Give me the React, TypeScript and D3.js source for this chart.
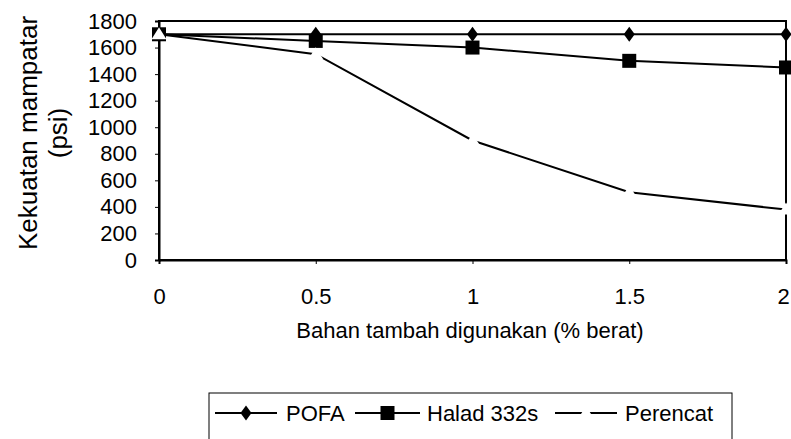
import React, { useEffect, useRef } from 'react';
import * as d3 from 'd3';

// data
const xValues = [0, 0.5, 1, 1.5, 2];
const pofa = [1700, 1700, 1700, 1700, 1700];
const halad = [1700, 1650, 1600, 1500, 1450];
const perencat = [1700, 1550, 900, 510, 380];
const yTicks = [0, 200, 400, 600, 800, 1000, 1200, 1400, 1600, 1800];
const xTicks = [0, 0.5, 1, 1.5, 2];
const seriesNames = ['POFA', 'Halad 332s', 'Perencat'];

const FONT = '"Liberation Sans", Arial, Helvetica, sans-serif';

const diamond = 'M0,-7.5L5.5,0L0,7.5L-5.5,0Z';
const square = 'M-7,-7H7V7H-7Z';
const triangle = 'M0,-7L7.5,5L-7.5,5Z';

export default function App() {
  const ref = useRef<SVGSVGElement>(null);

  useEffect(() => {
    const svg = d3.select(ref.current);
    svg.selectAll('*').remove();

    const left = 159, right = 786, top = 21, bottom = 260;
    const x = d3.scaleLinear().domain([0, 2]).range([left, right]);
    const y = d3.scaleLinear().domain([0, 1800]).range([bottom, top]);

    // plot frame
    svg.append('rect')
      .attr('x', left).attr('y', top)
      .attr('width', right - left).attr('height', bottom - top)
      .attr('fill', 'none').attr('stroke', '#000').attr('stroke-width', 2);

    // y axis
    const yAxis = svg.append('g')
      .attr('transform', `translate(${left},0)`)
      .call(d3.axisLeft(y).tickValues(yTicks).tickSize(4).tickPadding(18).tickFormat(d3.format('d')));
    yAxis.select('.domain').attr('stroke', '#000').attr('stroke-width', 2);
    yAxis.selectAll('.tick line').attr('stroke', '#000');
    yAxis.selectAll('.tick text')
      .attr('font-family', FONT).attr('font-size', 22).attr('fill', '#000');

    // x axis
    const xAxis = svg.append('g')
      .attr('transform', `translate(0,${bottom})`)
      .call(d3.axisBottom(x).tickValues(xTicks).tickSize(4).tickPadding(24).tickFormat(d => String(d)));
    xAxis.select('.domain').attr('stroke', '#000').attr('stroke-width', 2);
    xAxis.selectAll('.tick line').attr('stroke', '#000');
    xAxis.selectAll('.tick text')
      .attr('font-family', FONT).attr('font-size', 22).attr('fill', '#000')
      .attr('dx', (d: any) => (d === 2 ? -3 : 0));

    // axis titles
    const yTitle = svg.append('text')
      .attr('transform', 'translate(37,133) rotate(-90)')
      .attr('text-anchor', 'middle')
      .attr('font-family', FONT).attr('font-size', 26).attr('fill', '#000');
    yTitle.append('tspan').attr('x', 0).attr('y', 0).text('Kekuatan mampatar');
    yTitle.append('tspan').attr('x', 0).attr('y', 30).text('(psi)');

    svg.append('text')
      .attr('x', 470).attr('y', 338)
      .attr('text-anchor', 'middle')
      .attr('font-family', FONT).attr('font-size', 22).attr('fill', '#000')
      .text('Bahan tambah digunakan (% berat)');

    const line = d3.line<number>().x((_, i) => x(xValues[i])).y(d => y(d));
    const series = [
      { values: pofa, marker: diamond, fill: '#000' },
      { values: halad, marker: square, fill: '#000' },
      { values: perencat, marker: triangle, fill: '#fff' },
    ];

    series.forEach(s => {
      svg.append('path')
        .attr('d', line(s.values))
        .attr('fill', 'none').attr('stroke', '#000').attr('stroke-width', 2);
      svg.selectAll(null)
        .data(s.values)
        .join('path')
        .attr('transform', (d, i) => `translate(${x(xValues[i])},${y(d)})`)
        .attr('d', s.marker)
        .attr('fill', s.fill);
    });

    // legend
    const legend = svg.append('g');
    legend.append('rect')
      .attr('x', 209).attr('y', 393).attr('width', 523).attr('height', 70)
      .attr('fill', 'none').attr('stroke', '#000').attr('stroke-width', 1);
    const items = [
      { x0: 215, x1: 277, tx: 286 },
      { x0: 355, x1: 420, tx: 427 },
      { x0: 555, x1: 617, tx: 625 },
    ];
    items.forEach((it, i) => {
      const ly = 413;
      legend.append('line')
        .attr('x1', it.x0).attr('x2', it.x1).attr('y1', ly).attr('y2', ly)
        .attr('stroke', '#000').attr('stroke-width', 2);
      legend.append('path')
        .attr('transform', `translate(${(it.x0 + it.x1) / 2},${ly})`)
        .attr('d', series[i].marker)
        .attr('fill', series[i].fill);
      legend.append('text')
        .attr('x', it.tx).attr('y', ly).attr('dy', '0.35em')
        .attr('font-family', FONT).attr('font-size', 22).attr('fill', '#000')
        .text(seriesNames[i]);
    });
  }, []);

  return (
    <svg
      ref={ref}
      width={791}
      height={439}
      style={{ position: 'absolute', left: 0, top: 0, background: '#fff' }}
    />
  );
}
